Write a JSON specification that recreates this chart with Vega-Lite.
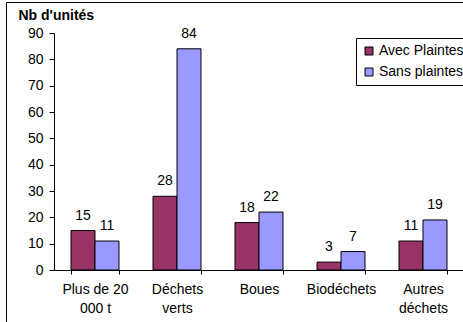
{
  "$schema": "https://vega.github.io/schema/vega-lite/v6.json",
  "width": 458,
  "height": 321,
  "autosize": {"type": "none"},
  "padding": {"left": 6, "top": 2, "right": -1, "bottom": -1},
  "background": "white",
  "config": {
    "font": "Liberation Sans",
    "view": {"stroke": "black", "strokeWidth": 1},
    "axis": {"grid": false, "domainColor": "black", "tickColor": "black", "labelColor": "black", "labelFontSize": 14, "titleColor": "black"}
  },
  "data": {
    "values": [
      {"categorie": "Plus de 20 000 t", "serie": "Avec Plaintes", "n": 15},
      {"categorie": "Plus de 20 000 t", "serie": "Sans plaintes", "n": 11},
      {"categorie": "Déchets verts", "serie": "Avec Plaintes", "n": 28},
      {"categorie": "Déchets verts", "serie": "Sans plaintes", "n": 84},
      {"categorie": "Boues", "serie": "Avec Plaintes", "n": 18},
      {"categorie": "Boues", "serie": "Sans plaintes", "n": 22},
      {"categorie": "Biodéchets", "serie": "Avec Plaintes", "n": 3},
      {"categorie": "Biodéchets", "serie": "Sans plaintes", "n": 7},
      {"categorie": "Autres déchets", "serie": "Avec Plaintes", "n": 11},
      {"categorie": "Autres déchets", "serie": "Sans plaintes", "n": 19}
    ]
  },
  "encoding": {
    "x": {
      "field": "categorie",
      "type": "nominal",
      "sort": null,
      "scale": {"range": [48, 458], "paddingInner": 0.415, "paddingOuter": 0.2075},
      "axis": {
        "title": null,
        "offset": -53,
        "labelAngle": 0,
        "tickBand": "extent",
        "tickSize": 4,
        "labelPadding": 8,
        "labelLineHeight": 19,
        "labelBaseline": "top",
        "labelExpr": "datum.value == 'Plus de 20 000 t' ? ['Plus de 20', '000 t'] : datum.value == 'Déchets verts' ? ['Déchets', 'verts'] : datum.value == 'Autres déchets' ? ['Autres', 'déchets'] : datum.value"
      }
    },
    "xOffset": {"field": "serie", "type": "nominal", "sort": ["Avec Plaintes", "Sans plaintes"]},
    "y": {
      "field": "n",
      "type": "quantitative",
      "scale": {"domain": [0, 90], "range": [268, 31], "nice": false},
      "axis": {
        "title": "Nb d'unités",
        "offset": -48,
        "values": [0, 10, 20, 30, 40, 50, 60, 70, 80, 90],
        "tickSize": 5,
        "labelPadding": 6,
        "titleAngle": 0,
        "titleAlign": "left",
        "titleBaseline": "alphabetic",
        "titleX": -36,
        "titleY": 17,
        "titleFontSize": 14,
        "titleFontWeight": "bold"
      }
    }
  },
  "layer": [
    {
      "mark": {"type": "bar", "stroke": "black", "strokeWidth": 1},
      "encoding": {
        "color": {
          "field": "serie",
          "type": "nominal",
          "scale": {"domain": ["Avec Plaintes", "Sans plaintes"], "range": ["#993366", "#9999FF"]},
          "legend": {
            "title": null,
            "orient": "none",
            "legendX": 350,
            "legendY": 36,
            "strokeColor": "black",
            "fillColor": "white",
            "padding": 6,
            "labelFontSize": 14,
            "labelColor": "black",
            "labelOffset": 3,
            "rowPadding": 7,
            "symbolType": "square",
            "symbolSize": 64,
            "symbolStrokeColor": "black",
            "symbolStrokeWidth": 1
          }
        }
      }
    },
    {
      "mark": {"type": "text", "baseline": "alphabetic", "dy": -11, "fontSize": 14, "color": "black"},
      "encoding": {"text": {"field": "n", "type": "quantitative"}}
    }
  ]
}
